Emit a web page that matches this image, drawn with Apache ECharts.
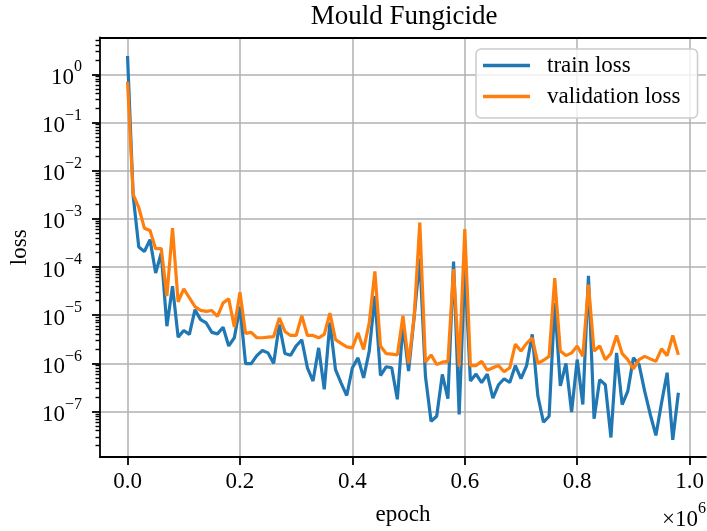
<!DOCTYPE html>
<html><head><meta charset="utf-8">
<script src="https://cdn.jsdelivr.net/npm/echarts@6/dist/echarts.min.js"></script>
<style>html,body{margin:0;padding:0;background:#fff}#c{width:707px;height:531px}</style>
</head><body><div id="c"></div>
<script>
const epochs = [0,10000,20000,30000,40000,50000,60000,70000,80000,90000,
100000,110000,120000,130000,140000,150000,160000,170000,180000,190000,
200000,210000,220000,230000,240000,250000,260000,270000,280000,290000,
300000,310000,320000,330000,340000,350000,360000,370000,380000,390000,
400000,410000,420000,430000,440000,450000,460000,470000,480000,490000,
500000,510000,520000,530000,540000,550000,560000,570000,580000,590000,
600000,610000,620000,630000,640000,650000,660000,670000,680000,690000,
700000,710000,720000,730000,740000,750000,760000,770000,780000,790000,
800000,810000,820000,830000,840000,850000,860000,870000,880000,890000,
900000,910000,920000,930000,940000,950000,960000,970000,980000];
const trainLoss = [2.4,3.0e-3,2.6e-4,2.1e-4,3.7e-4,7.5e-5,1.95e-4,5.9e-6,4.0e-5,3.5e-6,
4.8e-6,4.0e-6,1.3e-5,8.1e-6,6.9e-6,4.4e-6,4.1e-6,5.6e-6,2.3e-6,3.4e-6,
1.5e-5,9.9e-7,9.9e-7,1.45e-6,1.85e-6,1.65e-6,1.0e-6,6.4e-6,1.6e-6,1.47e-6,
2.3e-6,3.1e-6,8.1e-7,4.3e-7,2.1e-6,2.9e-7,7.1e-6,7.4e-7,3.9e-7,2.15e-7,
8.1e-7,1.3e-6,5.0e-7,1.8e-6,2.5e-5,5.6e-7,8.5e-7,8.1e-7,1.8e-7,6.4e-6,
6.9e-7,9.5e-6,1.5e-4,5.4e-7,6.3e-8,8.0e-8,5.9e-7,1.85e-7,1.3e-4,8.7e-8,
1.0e-4,4.3e-7,6.0e-7,4.0e-7,6.0e-7,1.9e-7,3.6e-7,4.8e-7,4.0e-7,9.0e-7,
4.8e-7,9.0e-7,4.0e-6,2.1e-7,6.0e-8,8.0e-8,1.8e-5,3.4e-7,1.0e-6,9.8e-8,
1.2e-6,1.4e-7,6.6e-5,7.1e-8,4.6e-7,3.6e-7,2.9e-8,1.65e-6,1.4e-7,2.65e-7,
1.3e-6,9.5e-7,2.65e-7,8.7e-8,3.2e-8,1.5e-7,6.4e-7,2.6e-8,2.45e-7];
const valLoss = [0.70,3.2e-3,1.7e-3,6.4e-4,5.7e-4,2.4e-4,2.4e-4,2.5e-5,6.4e-4,1.9e-5,
3.5e-5,2.3e-5,1.5e-5,1.26e-5,1.2e-5,1.25e-5,9.5e-6,1.8e-5,2.2e-5,5.7e-6,
3.0e-5,4.2e-6,4.4e-6,3.4e-6,3.4e-6,3.5e-6,3.6e-6,8.8e-6,4.6e-6,3.8e-6,
3.8e-6,9.8e-6,3.8e-6,3.8e-6,3.4e-6,4.0e-6,1.1e-5,3.1e-6,2.6e-6,2.2e-6,
2.1e-6,4.3e-6,1.95e-6,6.9e-6,8.1e-5,2.3e-6,1.6e-6,1.55e-6,1.5e-6,9.8e-6,
1.0e-6,9.5e-6,8.4e-4,1.06e-6,1.5e-6,9.5e-7,1.06e-6,1.1e-6,9.1e-5,8.5e-7,
6.1e-4,9.0e-7,9.0e-7,1.1e-6,7.2e-7,8.1e-7,9.0e-7,6.7e-7,8.1e-7,2.5e-6,
1.8e-6,2.6e-6,3.4e-6,1.0e-6,1.16e-6,1.4e-6,5.9e-5,1.8e-6,1.45e-6,1.65e-6,
2.3e-6,1.4e-6,4.3e-5,1.8e-6,2.3e-6,1.2e-6,1.6e-6,3.8e-6,1.6e-6,1.2e-6,
7.7e-7,1.2e-6,1.4e-6,1.24e-6,1.1e-6,2.0e-6,1.45e-6,3.8e-6,1.5e-6];
const xTicks = [0, 200000, 400000, 600000, 800000, 1000000];
const yTicks = [1e-7, 1e-6, 1e-5, 1e-4, 1e-3, 1e-2, 1e-1, 1];
const minorMultipliers = [2, 3, 4, 5, 6, 7, 8, 9];
const seriesNames = ['train loss', 'validation loss'];
const titleText = 'Mould Fungicide';

const yMinorTicks = [];
for (let e = -8; e <= 0; e++) for (const m of minorMultipliers) yMinorTicks.push(m * Math.pow(10, e));

const X_MIN = -49000, X_MAX = 1029000;
const Y_MIN = Math.pow(10, -7.943), Y_MAX = Math.pow(10, 0.763);
const FONT = 'Liberation Serif';
const GRID = {left: 100, top: 37.5, width: 608, height: 420};

function pairs(xs, ys) { return xs.map((x, i) => [x, ys[i]]); }
function yFmt(v) {
  const e = Math.round(Math.log10(v));
  return '{b|10}{s|' + (e < 0 ? '\u2212' + (-e) : String(e)) + '}';
}
const richSup = {
  b: {fontSize: 23, fontFamily: FONT, fontWeight: 'normal', color: '#000', lineHeight: 30, verticalAlign: 'bottom'},
  s: {fontSize: 16, fontFamily: FONT, fontWeight: 'normal', color: '#000', lineHeight: 16, verticalAlign: 'top'}
};

const chart = echarts.init(document.getElementById('c'), null, {renderer: 'canvas'});
chart.setOption({
  animation: false,
  backgroundColor: '#fff',
  title: [
    {text: titleText, left: 404, textAlign: 'center', top: 2, padding: 0,
     textStyle: {fontFamily: FONT, fontSize: 27, fontWeight: 'normal', color: '#000', lineHeight: 30}},
    {text: '{b|\u00d710}{s|6}', right: 1, top: 501, padding: 0,
     textStyle: {fontWeight: 'normal', fontFamily: FONT, rich: richSup}}
  ],
  grid: GRID,
  legend: {
    orient: 'vertical', left: 476, top: 49,
    padding: [5, 17, 10, 7], itemGap: 8,
    icon: 'rect', itemWidth: 47, itemHeight: 3.5,
    backgroundColor: 'rgba(255,255,255,0.8)', borderColor: '#cccccc', borderWidth: 1.5, borderRadius: 5,
    textStyle: {fontFamily: FONT, fontSize: 23, color: '#000', lineHeight: 23, padding: [0, 0, 0, 12]},
    data: seriesNames
  },
  xAxis: [{
    type: 'value', min: X_MIN, max: X_MAX, position: 'bottom',
    name: 'epoch', nameLocation: 'middle', nameGap: 46,
    nameTextStyle: {fontFamily: FONT, fontSize: 23, color: '#000'},
    axisLine: {onZero: false, lineStyle: {color: '#000', width: 1.8}},
    axisTick: {customValues: xTicks, length: 8, lineStyle: {color: '#000', width: 1.8}},
    axisLabel: {customValues: xTicks, margin: 13, fontFamily: FONT, fontSize: 23, color: '#000',
      formatter: v => (v / 1e6).toFixed(1)},
    splitLine: {show: true, lineStyle: {color: '#b0b0b0', width: 1.5}}
  }, {
    type: 'value', min: X_MIN, max: X_MAX, position: 'top',
    axisLine: {show: true, onZero: false, lineStyle: {color: '#000', width: 1.8}},
    axisTick: {show: false}, axisLabel: {show: false}, splitLine: {show: false}
  }],
  yAxis: [{
    type: 'log', min: Y_MIN, max: Y_MAX, position: 'left',
    name: 'loss', nameLocation: 'middle', nameGap: 68, nameRotate: 90,
    nameTextStyle: {fontFamily: FONT, fontSize: 23, color: '#000'},
    axisLine: {show: true, onZero: false, lineStyle: {color: '#000', width: 1.8}},
    axisTick: {customValues: yTicks, length: 8, lineStyle: {color: '#000', width: 1.8}},
    axisLabel: {customValues: yTicks, margin: 18, formatter: yFmt, rich: richSup},
    splitLine: {show: true, lineStyle: {color: '#b0b0b0', width: 1.5}}
  }, {
    type: 'log', min: Y_MIN, max: Y_MAX, position: 'left',
    axisLine: {show: false, onZero: false},
    axisTick: {show: true, customValues: yMinorTicks, length: 4.5, lineStyle: {color: '#000', width: 1.4}},
    axisLabel: {show: false}, splitLine: {show: false}
  }],
  series: [
    {name: seriesNames[0], type: 'line', data: pairs(epochs, trainLoss), showSymbol: false,
     lineStyle: {color: '#1f77b4', width: 3.2}, itemStyle: {color: '#1f77b4'}},
    {name: seriesNames[1], type: 'line', data: pairs(epochs, valLoss), showSymbol: false,
     lineStyle: {color: '#ff7f0e', width: 3.2}, itemStyle: {color: '#ff7f0e'}}
  ]
});
</script></body></html>
